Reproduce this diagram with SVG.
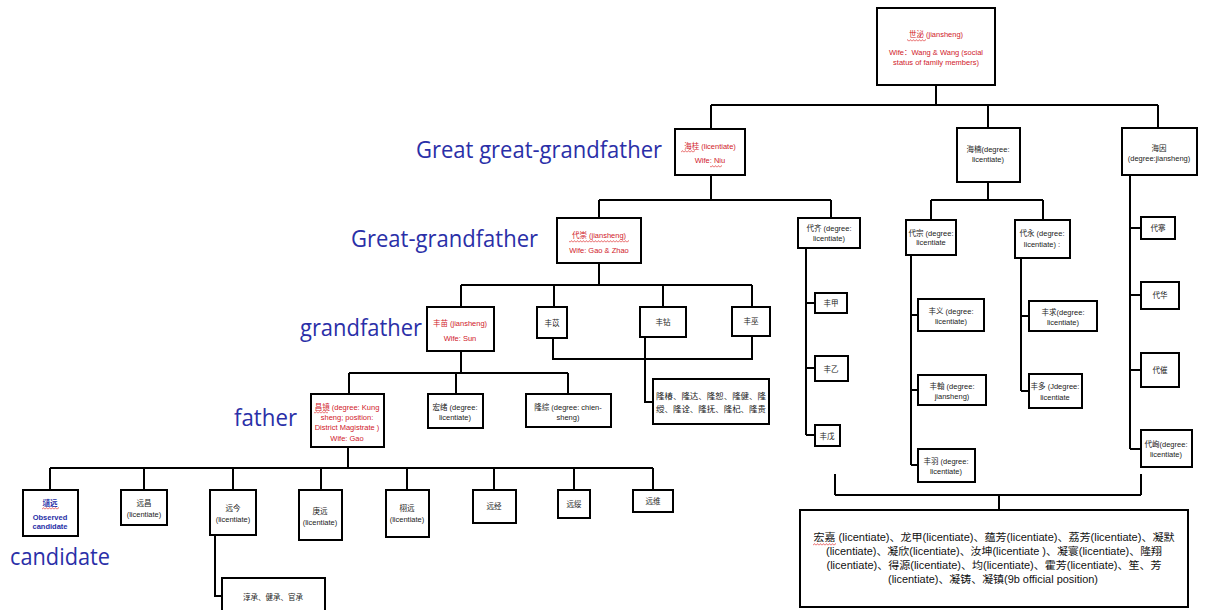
<svg xmlns="http://www.w3.org/2000/svg" width="1205" height="610" viewBox="0 0 1205 610">
  <style>
    .bx { fill: #fff; stroke: #000; stroke-width: 2; }
    .ln { fill: none; stroke: #000; stroke-width: 2; }
    .t { font-family: "Liberation Sans", "Noto Sans CJK SC", sans-serif; font-size: 7.5px; text-anchor: middle; fill: #222; }
    .r { fill: #d0202a; }
    .b { fill: #1f2ea6; font-weight: bold; }
    .lbl { font-family: "Open Sans", "Liberation Sans", sans-serif; font-size: 23px; fill: #2a2fa8; }
    .big { font-family: "Liberation Sans", "Noto Sans CJK SC", sans-serif; font-size: 10.5px; text-anchor: middle; fill: #111; }
    .sq { fill: url(#wave); }
  </style>
  <defs>
    <pattern id="wave" width="3" height="3" patternUnits="userSpaceOnUse">
      <path d="M0,2.4 L1.5,0.6 L3,2.4" fill="none" stroke="#e03030" stroke-width="0.7"/>
    </pattern>
  </defs>
  <rect width="1205" height="610" fill="#fff"/>

  <!-- generation labels -->
  <g id="labels">
    <text class="lbl" x="416" y="158" textLength="246" lengthAdjust="spacingAndGlyphs">Great great-grandfather</text>
    <text class="lbl" x="351" y="247" textLength="187" lengthAdjust="spacingAndGlyphs">Great-grandfather</text>
    <text class="lbl" x="300" y="336" textLength="122" lengthAdjust="spacingAndGlyphs">grandfather</text>
    <text class="lbl" x="234" y="426" textLength="63" lengthAdjust="spacingAndGlyphs">father</text>
    <text class="lbl" x="10" y="565" textLength="100" lengthAdjust="spacingAndGlyphs">candidate</text>
  </g>

  <!-- connectors -->
  <g id="connectors" class="ln">
    <path d="M936,85 V105 M711,105 H1158 M711,105 V129 M988,105 V128 M1158,105 V128"/>
    <path d="M711,175 V200 M599,200 H831 M599,200 V218 M831,200 V218"/>
    <path d="M988,182 V200 M931,200 H1043 M931,200 V220 M1043,200 V220"/>
    <path d="M599,263 V285 M461,285 H752 M461,285 V307 M554,285 V307 M663,285 V307 M752,285 V307"/>
    <path d="M553,338 V359 H752 V336 M645,337 V402 H653"/>
    <path d="M461,351 V373 M349,373 H568 M349,373 V394 M456,373 V394 M568,373 V394"/>
    <path d="M348,447 V468 M50,468 H653 M50,468 V490 M144,468 V490 M233,468 V490 M321,468 V490 M407,468 V490 M494,468 V490 M574,468 V490 M653,468 V490"/>
    <path d="M215,535 V596 H222"/>
    <path d="M806,248 V435 M806,303 H815 M806,368 H815 M806,435 H815"/>
    <path d="M911,255 V465 M911,315 H918 M911,390 H918 M911,465 H918"/>
    <path d="M1021,258 V391 M1021,316 H1029 M1021,391 H1029"/>
    <path d="M1130,175 V449 M1130,228 H1141 M1130,295 H1141 M1130,370 H1141 M1130,449 H1141"/>
    <path d="M835,474 V495 M1141,474 V495 M835,495 H1141 M999,495 V510"/>
  </g>

  <!-- root -->
  <g id="n-shimi">
    <rect class="bx" x="877" y="8" width="118" height="77"/>
    <text class="t r" x="936" y="37">世泌 (jiansheng)</text>
    <text class="t r" x="936" y="55">Wife：Wang &amp; Wang (social</text>
    <text class="t r" x="936" y="65">status of family members)</text>
    <rect class="sq" x="907" y="39" width="19" height="3"/>
  </g>

  <!-- great great-grandfather generation -->
  <g id="n-haigui">
    <rect class="bx" x="675" y="129" width="70" height="46"/>
    <text class="t r" x="710" y="149">海桂 (licentiate)</text>
    <text class="t r" x="710" y="163">Wife: Niu</text>
    <rect class="sq" x="681" y="150" width="14" height="3"/>
    <rect class="sq" x="710" y="165" width="12" height="3"/>
  </g>
  <g id="n-hainan">
    <rect class="bx" x="957" y="128" width="63" height="54"/>
    <text class="t" x="988" y="152">海楠(degree:</text>
    <text class="t" x="988" y="162">licentiate)</text>
  </g>
  <g id="n-haiyin">
    <rect class="bx" x="1122" y="128" width="75" height="47"/>
    <text class="t" x="1159" y="151">海因</text>
    <text class="t" x="1159" y="161">(degree:jiansheng)</text>
  </g>

  <!-- great-grandfather generation -->
  <g id="n-daichong">
    <rect class="bx" x="557" y="218" width="84" height="45"/>
    <text class="t r" x="599" y="238">代崇 (jiansheng)</text>
    <text class="t r" x="599" y="253">Wife: Gao &amp; Zhao</text>
    <rect class="sq" x="569" y="240" width="60" height="3"/>
  </g>
  <g id="n-daiqi">
    <rect class="bx" x="798" y="218" width="62" height="30"/>
    <text class="t" x="829" y="231">代齐 (degree:</text>
    <text class="t" x="829" y="241">licentiate)</text>
  </g>
  <g id="n-daizong">
    <rect class="bx" x="906" y="220" width="50" height="35"/>
    <text class="t" x="931" y="236">代宗 (degree:</text>
    <text class="t" x="931" y="245">licentiate</text>
  </g>
  <g id="n-daiyong">
    <rect class="bx" x="1015" y="220" width="55" height="38"/>
    <text class="t" x="1042" y="236">代永 (degree:</text>
    <text class="t" x="1042" y="247">licentiate) :</text>
  </g>
  <g id="n-daiqian">
    <rect class="bx" x="1141" y="217" width="34" height="22"/>
    <text class="t" x="1158" y="231">代搴</text>
  </g>
  <g id="n-daihua">
    <rect class="bx" x="1141" y="282" width="38" height="27"/>
    <text class="t" x="1160" y="298">代华</text>
  </g>
  <g id="n-daicui">
    <rect class="bx" x="1141" y="353" width="38" height="34"/>
    <text class="t" x="1160" y="373">代催</text>
  </g>
  <g id="n-daixun">
    <rect class="bx" x="1141" y="430" width="51" height="37"/>
    <text class="t" x="1166" y="447">代峋(degree:</text>
    <text class="t" x="1166" y="457">licentiate)</text>
  </g>

  <!-- grandfather generation -->
  <g id="n-fengmiao">
    <rect class="bx" x="427" y="307" width="67" height="44"/>
    <text class="t r" x="460" y="326">丰苗 (jiansheng)</text>
    <text class="t r" x="460" y="341">Wife: Sun</text>
  </g>
  <g id="n-fengyi1">
    <rect class="bx" x="537" y="307" width="30" height="31"/>
    <text class="t" x="552" y="326">丰苡</text>
  </g>
  <g id="n-fengzuan">
    <rect class="bx" x="640" y="307" width="46" height="30"/>
    <text class="t" x="663" y="325">丰钻</text>
  </g>
  <g id="n-fengwu">
    <rect class="bx" x="732" y="307" width="38" height="29"/>
    <text class="t" x="751" y="324">丰巫</text>
  </g>
  <g id="n-fengjia">
    <rect class="bx" x="815" y="293" width="32" height="20"/>
    <text class="t" x="831" y="306">丰甲</text>
  </g>
  <g id="n-fengyi2">
    <rect class="bx" x="815" y="356" width="33" height="25"/>
    <text class="t" x="831" y="372">丰乙</text>
  </g>
  <g id="n-fengwu2">
    <rect class="bx" x="815" y="425" width="25" height="21"/>
    <text class="t" x="827" y="439">丰戊</text>
  </g>
  <g id="n-fengyi3">
    <rect class="bx" x="918" y="299" width="66" height="32"/>
    <text class="t" x="951" y="314">丰义 (degree:</text>
    <text class="t" x="951" y="324">licentiate)</text>
  </g>
  <g id="n-fenghan">
    <rect class="bx" x="918" y="375" width="68" height="30"/>
    <text class="t" x="952" y="389">丰翰 (degree:</text>
    <text class="t" x="952" y="399">jiansheng)</text>
  </g>
  <g id="n-fengyu">
    <rect class="bx" x="918" y="449" width="57" height="33"/>
    <text class="t" x="946" y="464">丰羽 (degree:</text>
    <text class="t" x="946" y="474">licentiate)</text>
  </g>
  <g id="n-fengqiu">
    <rect class="bx" x="1029" y="301" width="68" height="30"/>
    <text class="t" x="1063" y="315">丰求(degree:</text>
    <text class="t" x="1063" y="325">licentiate)</text>
  </g>
  <g id="n-fengduo">
    <rect class="bx" x="1029" y="374" width="53" height="34"/>
    <text class="t" x="1055" y="389">丰多 (Jdegree:</text>
    <text class="t" x="1055" y="400">licentiate</text>
  </g>

  <!-- father generation -->
  <g id="n-changjing">
    <rect class="bx" x="311" y="394" width="73" height="53"/>
    <text class="t r" x="347" y="410">昌镜 (degree: Kung</text>
    <text class="t r" x="347" y="420">sheng; position:</text>
    <text class="t r" x="347" y="430">District Magistrate )</text>
    <text class="t r" x="347" y="441">Wife: Gao</text>
    <rect class="sq" x="314" y="411" width="14" height="3"/>
  </g>
  <g id="n-hongxu">
    <rect class="bx" x="428" y="394" width="55" height="34"/>
    <text class="t" x="455" y="410">宏绪 (degree:</text>
    <text class="t" x="455" y="420">licentiate)</text>
  </g>
  <g id="n-longzong">
    <rect class="bx" x="526" y="394" width="85" height="33"/>
    <text class="t" x="568" y="410">隆综 (degree: chien-</text>
    <text class="t" x="568" y="420">sheng)</text>
  </g>
  <g id="n-longchun">
    <rect class="bx" x="653" y="379" width="116" height="45"/>
    <text class="t" x="656" y="399" style="text-anchor:start" textLength="110" lengthAdjust="spacingAndGlyphs">隆椿、隆达、隆恕、隆健、隆</text>
    <text class="t" x="656" y="412" style="text-anchor:start" textLength="110" lengthAdjust="spacingAndGlyphs">绶、隆诠、隆抚、隆杞、隆贵</text>
  </g>

  <!-- candidate generation -->
  <g id="n-weiyuan">
    <rect class="bx" x="23" y="490" width="55" height="46"/>
    <text class="t b" x="50" y="506">壝远</text>
    <text class="t b" x="50" y="520">Observed</text>
    <text class="t b" x="50" y="529">candidate</text>
    <rect class="sq" x="42" y="507" width="17" height="3"/>
  </g>
  <g id="n-yuanchang">
    <rect class="bx" x="121" y="490" width="46" height="35"/>
    <text class="t" x="144" y="506">远昌</text>
    <text class="t" x="144" y="517">(licentiate)</text>
  </g>
  <g id="n-yuanjin">
    <rect class="bx" x="210" y="490" width="46" height="45"/>
    <text class="t" x="233" y="511">远今</text>
    <text class="t" x="233" y="522">(licentiate)</text>
  </g>
  <g id="n-gengyuan">
    <rect class="bx" x="299" y="490" width="43" height="50"/>
    <text class="t" x="320" y="514">庚远</text>
    <text class="t" x="320" y="525">(licentiate)</text>
  </g>
  <g id="n-xuyuan">
    <rect class="bx" x="386" y="490" width="43" height="47"/>
    <text class="t" x="407" y="511">栩远</text>
    <text class="t" x="407" y="522">(licentiate)</text>
  </g>
  <g id="n-yuanjing">
    <rect class="bx" x="473" y="490" width="43" height="33"/>
    <text class="t" x="494" y="509">远经</text>
  </g>
  <g id="n-yuansui">
    <rect class="bx" x="558" y="490" width="32" height="28"/>
    <text class="t" x="574" y="507">远绥</text>
  </g>
  <g id="n-yuanwei">
    <rect class="bx" x="633" y="490" width="40" height="22"/>
    <text class="t" x="653" y="504">远维</text>
  </g>
  <g id="n-chuncheng">
    <rect class="bx" x="222" y="578" width="103" height="40"/>
    <text class="t" x="273" y="600">淳承、健承、官承</text>
  </g>

  <!-- descendants of the right-hand branches -->
  <g id="n-hongjia">
    <rect class="bx" x="800" y="510" width="388" height="97"/>
    <text class="big" x="994" y="541" textLength="361" lengthAdjust="spacingAndGlyphs">宏嘉 (licentiate)、龙甲(licentiate)、蕴芳(licentiate)、荔芳(licentiate)、凝默</text>
    <text class="big" x="994" y="555" textLength="336" lengthAdjust="spacingAndGlyphs">(licentiate)、凝欣(licentiate)、汝坤(licentiate )、凝寰(licentiate)、隆翔</text>
    <text class="big" x="994" y="569" textLength="335" lengthAdjust="spacingAndGlyphs">(licentiate)、得源(licentiate)、均(licentiate)、霍芳(licentiate)、笙、芳</text>
    <text class="big" x="993" y="583" textLength="210" lengthAdjust="spacingAndGlyphs">(licentiate)、凝铸、凝镇(9b official position)</text>
    <rect class="sq" x="813" y="543" width="23" height="3"/>
  </g>
</svg>
